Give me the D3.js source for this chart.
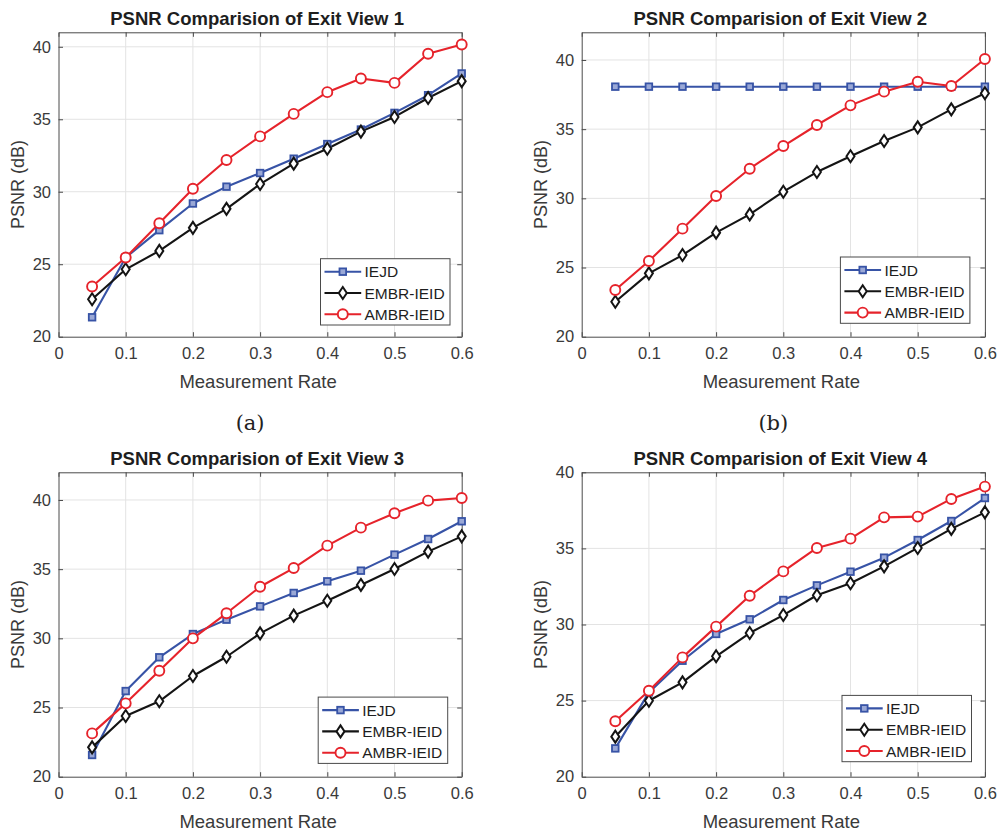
<!DOCTYPE html>
<html>
<head>
<meta charset="utf-8">
<script src="https://cdn.jsdelivr.net/npm/d3@7/dist/d3.min.js"></script>
<style>
  html, body { margin: 0; padding: 0; background: #fff; }
  svg { display: block; }
</style>
</head>
<body>
<svg id="fig" width="1002" height="833"></svg>
<script>
// Measurement rates on the x axis
const rates = [0.05, 0.1, 0.15, 0.2, 0.25, 0.3, 0.35, 0.4, 0.45, 0.5, 0.55, 0.6];
const xTicks = [0, 0.1, 0.2, 0.3, 0.4, 0.5, 0.6];
const xTickLabels = ["0", "0.1", "0.2", "0.3", "0.4", "0.5", "0.6"];
const yTicks = [20, 25, 30, 35, 40];

const seriesNames = ["IEJD", "EMBR-IEID", "AMBR-IEID"];
const panelTitles = [
  "PSNR Comparision of Exit View 1",
  "PSNR Comparision of Exit View 2",
  "PSNR Comparision of Exit View 3",
  "PSNR Comparision of Exit View 4"
];
const subLabels = ["(a)", "(b)", "", ""];
const yMax = [41, 42, 42, 40];

// PSNR (dB) per exit view
const iejdView1 = [21.34, 25.46, 27.35, 29.19, 30.35, 31.29, 32.28, 33.29, 34.29, 35.44, 36.66, 38.16];
const embrView1 = [22.58, 24.65, 25.92, 27.51, 28.82, 30.53, 31.94, 32.97, 34.15, 35.16, 36.47, 37.63];
const ambrView1 = [23.46, 25.46, 27.83, 30.21, 32.19, 33.82, 35.37, 36.87, 37.81, 37.51, 39.52, 40.16];

const iejdView2 = [38.07, 38.07, 38.07, 38.07, 38.07, 38.07, 38.07, 38.07, 38.07, 38.07, 38.07, 38.07];
const embrView2 = [22.53, 24.58, 25.90, 27.52, 28.84, 30.48, 31.90, 33.04, 34.14, 35.13, 36.43, 37.59];
const ambrView2 = [23.37, 25.47, 27.81, 30.17, 32.14, 33.78, 35.30, 36.72, 37.71, 38.43, 38.12, 40.07];

const iejdView3 = [21.57, 26.19, 28.63, 30.31, 31.35, 32.31, 33.28, 34.12, 34.89, 36.05, 37.18, 38.46];
const embrView3 = [22.12, 24.39, 25.45, 27.28, 28.67, 30.36, 31.64, 32.72, 33.86, 35.01, 36.27, 37.37];
const ambrView3 = [23.13, 25.30, 27.66, 30.00, 31.81, 33.73, 35.08, 36.70, 38.00, 39.04, 39.95, 40.14];

const iejdView4 = [21.86, 25.54, 27.62, 29.38, 30.34, 31.61, 32.57, 33.47, 34.39, 35.55, 36.80, 38.31];
const embrView4 = [22.63, 24.99, 26.20, 27.91, 29.44, 30.62, 31.92, 32.71, 33.82, 35.03, 36.28, 37.37];
const ambrView4 = [23.64, 25.65, 27.84, 29.86, 31.89, 33.49, 35.03, 35.64, 37.04, 37.09, 38.25, 39.06];

const viewData = [
  [iejdView1, embrView1, ambrView1],
  [iejdView2, embrView2, ambrView2],
  [iejdView3, embrView3, ambrView3],
  [iejdView4, embrView4, ambrView4]
];

// Layout and style
const panelLeft = [58.5, 581.7];
const panelTop = [32.3, 472.3];
const panelW = 403.2;
const panelH = 304.4;
const legendGap = [[11.7, 11.7], [15, 13.4], [14, 13.3], [13.4, 15]];
const colors = ["#3753a6", "#141414", "#e6232b"];
const markerFill = ["#9aa8d6", "#ffffff", "#ffffff"];
const sansFont = "'Liberation Sans', Arial, Helvetica, sans-serif";
const axisColor = "#4a4a4a";
const textColor = "#3a3a3a";

const svg = d3.select("#fig");
svg.append("rect").attr("width", 1002).attr("height", 833).attr("fill", "#fff");

function drawMarker(g, kind, x, y) {
  if (kind === 0) {
    g.append("rect")
      .attr("x", x - 3.3).attr("y", y - 3.3)
      .attr("width", 6.6).attr("height", 6.6)
      .attr("fill", markerFill[0]).attr("stroke", colors[0]).attr("stroke-width", 1.8);
  } else if (kind === 1) {
    g.append("path")
      .attr("d", `M${x},${y - 6}L${x + 4},${y}L${x},${y + 6}L${x - 4},${y}Z`)
      .attr("fill", markerFill[1]).attr("stroke", colors[1]).attr("stroke-width", 2);
  } else {
    g.append("circle")
      .attr("cx", x).attr("cy", y).attr("r", 5)
      .attr("fill", markerFill[2]).attr("stroke", colors[2]).attr("stroke-width", 1.9);
  }
}

viewData.forEach((series, idx) => {
  const left = panelLeft[idx % 2];
  const top = panelTop[Math.floor(idx / 2)];
  const x = d3.scaleLinear().domain([0, 0.6]).range([left, left + panelW]);
  const y = d3.scaleLinear().domain([20, yMax[idx]]).range([top + panelH, top]);
  const g = svg.append("g");

  // grid
  g.append("g").selectAll("line").data(xTicks.slice(1, -1)).join("line")
    .attr("x1", d => x(d)).attr("x2", d => x(d))
    .attr("y1", top).attr("y2", top + panelH)
    .attr("stroke", "#e3e3e3").attr("stroke-width", 1);
  g.append("g").selectAll("line").data(yTicks.filter(v => v > 20 && v < yMax[idx])).join("line")
    .attr("x1", left).attr("x2", left + panelW)
    .attr("y1", d => y(d)).attr("y2", d => y(d))
    .attr("stroke", "#e3e3e3").attr("stroke-width", 1);

  // axes through d3 axis generators (ticks point inward)
  const bottomAxis = d3.axisBottom(x).tickValues(xTicks)
    .tickFormat((d, i) => xTickLabels[i]).tickSizeInner(-4.5).tickSizeOuter(0).tickPadding(11);
  const leftAxis = d3.axisLeft(y).tickValues(yTicks.filter(v => v <= yMax[idx]))
    .tickFormat(d3.format("d")).tickSizeInner(-4.5).tickSizeOuter(0).tickPadding(7.5);
  const topAxis = d3.axisTop(x).tickValues(xTicks).tickFormat("").tickSizeInner(-4.5).tickSizeOuter(0);
  const rightAxis = d3.axisRight(y).tickValues(yTicks.filter(v => v <= yMax[idx]))
    .tickFormat("").tickSizeInner(-4.5).tickSizeOuter(0);

  const styleAxis = sel => {
    sel.select(".domain").attr("stroke", axisColor).attr("stroke-width", 1);
    sel.selectAll(".tick line").attr("stroke", axisColor).attr("stroke-width", 1);
    sel.selectAll(".tick text").attr("fill", textColor)
      .style("font-family", sansFont).style("font-size", "16.5px");
  };
  g.append("g").attr("transform", `translate(0,${top + panelH})`).call(bottomAxis).call(styleAxis);
  g.append("g").attr("transform", `translate(${left},0)`).call(leftAxis).call(styleAxis);
  g.append("g").attr("transform", `translate(0,${top})`).call(topAxis).call(styleAxis);
  g.append("g").attr("transform", `translate(${left + panelW},0)`).call(rightAxis).call(styleAxis);

  // series lines and markers
  const line = d3.line().x((d, i) => x(rates[i])).y(d => y(d));
  series.forEach((vals, s) => {
    g.append("path").datum(vals)
      .attr("d", line).attr("fill", "none")
      .attr("stroke", colors[s]).attr("stroke-width", 2.1).attr("stroke-linejoin", "round");
  });
  series.forEach((vals, s) => {
    const mg = g.append("g");
    vals.forEach((v, i) => drawMarker(mg, s, x(rates[i]), y(v)));
  });

  // title and axis labels
  g.append("text")
    .attr("x", left + panelW / 2 - 3).attr("y", top - 7.5)
    .attr("text-anchor", "middle").attr("fill", "#1e1e1e")
    .style("font-family", sansFont).style("font-weight", "bold").style("font-size", "18.5px")
    .text(panelTitles[idx]);
  g.append("text")
    .attr("x", left + panelW / 2 - 2).attr("y", top + panelH + 51.5)
    .attr("text-anchor", "middle").attr("fill", textColor)
    .style("font-family", sansFont).style("font-size", "18.5px")
    .text("Measurement Rate");
  g.append("text")
    .attr("transform", `translate(${left - 35},${top + panelH / 2}) rotate(-90)`)
    .attr("text-anchor", "middle").attr("fill", textColor)
    .style("font-family", sansFont).style("font-size", "18px")
    .text("PSNR (dB)");
  if (subLabels[idx]) {
    g.append("text")
      .attr("x", left + panelW / 2 - 10).attr("y", top + panelH + 93)
      .attr("text-anchor", "middle").attr("fill", "#222")
      .style("font-family", "'DejaVu Serif', 'Liberation Serif', serif").style("font-size", "21px")
      .text(subLabels[idx]);
  }

  // legend
  const lw = 129.5, lh = 66.3;
  const lx = left + panelW - legendGap[idx][0] - lw;
  const ly = top + panelH - legendGap[idx][1] - lh;
  const lg = g.append("g");
  lg.append("rect").attr("x", lx).attr("y", ly).attr("width", lw).attr("height", lh)
    .attr("fill", "#fff").attr("stroke", axisColor).attr("stroke-width", 1);
  seriesNames.forEach((name, s) => {
    const ry = ly + 13 + s * 21.3;
    lg.append("line").attr("x1", lx + 4).attr("x2", lx + 40.7)
      .attr("y1", ry).attr("y2", ry)
      .attr("stroke", colors[s]).attr("stroke-width", 2.1);
    drawMarker(lg, s, lx + 22.3, ry);
    lg.append("text").attr("x", lx + 44).attr("y", ry + 5.6)
      .attr("fill", "#1e1e1e")
      .style("font-family", sansFont).style("font-size", "15.5px")
      .text(name);
  });
});
</script>
</body>
</html>
